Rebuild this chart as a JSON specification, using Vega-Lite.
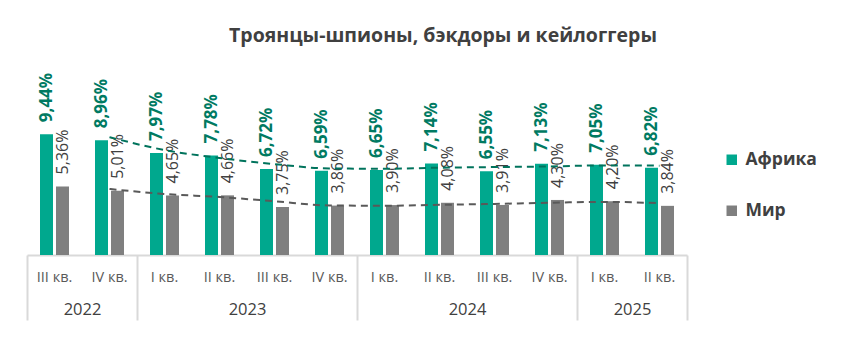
{
  "$schema": "https://vega.github.io/schema/vega-lite/v6.json",
  "autosize": {"type": "none"},
  "width": 660,
  "height": 128,
  "padding": {"left": 27, "top": 127, "right": 164, "bottom": 95},
  "background": "white",
  "config": {
    "view": {"stroke": null},
    "font": "Open Sans",
    "locale": {"number": {"decimal": ",", "thousands": " ", "grouping": [3], "currency": ["", ""]}}
  },
  "title": {
    "text": "Троянцы-шпионы, бэкдоры и кейлоггеры",
    "fontSize": 19.5,
    "fontWeight": "bold",
    "color": "#404040",
    "font": "Open Sans",
    "anchor": "middle",
    "frame": "group",
    "dx": 86,
    "offset": 26
  },
  "datasets": {
    "main": [
      {"n": 1, "key": "III кв. 2022", "series": "Африка", "value": 0.0944},
      {"n": 1, "key": "III кв. 2022", "series": "Мир", "value": 0.0536},
      {"n": 2, "key": "IV кв. 2022", "series": "Африка", "value": 0.0896},
      {"n": 2, "key": "IV кв. 2022", "series": "Мир", "value": 0.0501},
      {"n": 3, "key": "I кв. 2023", "series": "Африка", "value": 0.0797},
      {"n": 3, "key": "I кв. 2023", "series": "Мир", "value": 0.0465},
      {"n": 4, "key": "II кв. 2023", "series": "Африка", "value": 0.0778},
      {"n": 4, "key": "II кв. 2023", "series": "Мир", "value": 0.0466},
      {"n": 5, "key": "III кв. 2023", "series": "Африка", "value": 0.0672},
      {"n": 5, "key": "III кв. 2023", "series": "Мир", "value": 0.0375},
      {"n": 6, "key": "IV кв. 2023", "series": "Африка", "value": 0.0659},
      {"n": 6, "key": "IV кв. 2023", "series": "Мир", "value": 0.0386},
      {"n": 7, "key": "I кв. 2024", "series": "Африка", "value": 0.0665},
      {"n": 7, "key": "I кв. 2024", "series": "Мир", "value": 0.0390},
      {"n": 8, "key": "II кв. 2024", "series": "Африка", "value": 0.0714},
      {"n": 8, "key": "II кв. 2024", "series": "Мир", "value": 0.0408},
      {"n": 9, "key": "III кв. 2024", "series": "Африка", "value": 0.0655},
      {"n": 9, "key": "III кв. 2024", "series": "Мир", "value": 0.0391},
      {"n": 10, "key": "IV кв. 2024", "series": "Африка", "value": 0.0713},
      {"n": 10, "key": "IV кв. 2024", "series": "Мир", "value": 0.0430},
      {"n": 11, "key": "I кв. 2025", "series": "Африка", "value": 0.0705},
      {"n": 11, "key": "I кв. 2025", "series": "Мир", "value": 0.0420},
      {"n": 12, "key": "II кв. 2025", "series": "Африка", "value": 0.0682},
      {"n": 12, "key": "II кв. 2025", "series": "Мир", "value": 0.0384}
    ],
    "trend": [
      {"n": 2, "series": "Африка", "trend": 0.0921},
      {"n": 3, "series": "Африка", "trend": 0.0820},
      {"n": 4, "series": "Африка", "trend": 0.0758},
      {"n": 5, "series": "Африка", "trend": 0.0710},
      {"n": 6, "series": "Африка", "trend": 0.0676},
      {"n": 7, "series": "Африка", "trend": 0.0674},
      {"n": 8, "series": "Африка", "trend": 0.0682},
      {"n": 9, "series": "Африка", "trend": 0.0687},
      {"n": 10, "series": "Африка", "trend": 0.0692},
      {"n": 11, "series": "Африка", "trend": 0.0700},
      {"n": 12, "series": "Африка", "trend": 0.0698},
      {"n": 2, "series": "Мир", "trend": 0.0516},
      {"n": 3, "series": "Мир", "trend": 0.0477},
      {"n": 4, "series": "Мир", "trend": 0.0453},
      {"n": 5, "series": "Мир", "trend": 0.0420},
      {"n": 6, "series": "Мир", "trend": 0.0387},
      {"n": 7, "series": "Мир", "trend": 0.0385},
      {"n": 8, "series": "Мир", "trend": 0.0392},
      {"n": 9, "series": "Мир", "trend": 0.0399},
      {"n": 10, "series": "Мир", "trend": 0.0408},
      {"n": 11, "series": "Мир", "trend": 0.0415},
      {"n": 12, "series": "Мир", "trend": 0.0405}
    ]
  },
  "layer": [
    {
      "data": {"name": "main"},
      "encoding": {
        "x": {
          "field": "key", "type": "nominal", "sort": null,
          "scale": {"paddingInner": 0, "paddingOuter": 0},
          "axis": {
            "orient": "bottom", "title": null, "ticks": false, "labelAngle": 0,
            "domainColor": "#D9D9D9", "domainWidth": 2,
            "labelFontSize": 14.5, "labelColor": "#595959", "labelPadding": 15,
            "labelExpr": "slice(datum.label, 0, -5)"
          }
        },
        "xOffset": {
          "field": "series", "type": "nominal",
          "scale": {"domain": ["Африка", "Мир"], "paddingInner": 0.1875, "paddingOuter": 0.8125}
        },
        "y": {
          "field": "value", "type": "quantitative",
          "scale": {"domain": [0, 0.1], "nice": false},
          "axis": null
        }
      },
      "layer": [
        {
          "mark": {"type": "bar"},
          "encoding": {
            "color": {
              "field": "series", "type": "nominal",
              "scale": {"domain": ["Африка", "Мир"], "range": ["#00A88E", "#7F7F7F"]},
              "legend": {
                "title": null, "orient": "none", "legendX": 696, "legendY": 24,
                "symbolType": "square", "symbolSize": 110, "symbolStrokeWidth": 0,
                "labelFontSize": 17.5, "labelFontWeight": "bold", "labelColor": "#404040",
                "labelFont": "Open Sans", "rowPadding": 32, "padding": 0, "labelOffset": 5
              }
            }
          }
        },
        {
          "transform": [{"filter": "datum.series === 'Африка'"}],
          "mark": {"type": "text", "angle": 270, "align": "left", "baseline": "middle", "dx": 12,
                   "fontSize": 17, "fontWeight": "bold", "color": "#007A62"},
          "encoding": {"text": {"field": "value", "type": "quantitative", "format": ".2%"}}
        },
        {
          "transform": [{"filter": "datum.series === 'Мир'"}],
          "mark": {"type": "text", "angle": 270, "align": "left", "baseline": "middle", "dx": 12,
                   "fontSize": 16, "color": "#404040"},
          "encoding": {"text": {"field": "value", "type": "quantitative", "format": ".2%"}}
        }
      ]
    },
    {
      "data": {"name": "trend"},
      "encoding": {
        "x": {
          "field": "n", "type": "quantitative",
          "scale": {"domain": [0.5, 12.5], "nice": false, "zero": false},
          "axis": {
            "orient": "bottom", "title": null, "domain": false, "grid": false,
            "values": [0.5, 1.5, 2.5, 4.5, 6.5, 8.5, 10.5, 11.5, 12.5],
            "tickSize": 65, "tickColor": "#D9D9D9", "tickWidth": 2,
            "tickOpacity": {"condition": {"test": "indexof([0.5, 2.5, 6.5, 10.5, 12.5], datum.value) >= 0", "value": 1}, "value": 0},
            "labelExpr": "datum.value == 1.5 ? '2022' : datum.value == 4.5 ? '2023' : datum.value == 8.5 ? '2024' : datum.value == 11.5 ? '2025' : ''",
            "labelFontSize": 16.5, "labelColor": "#404040", "labelPadding": -19,
            "labelFlush": false, "labelOverlap": false, "labelBound": false
          }
        },
        "y": {"field": "trend", "type": "quantitative"}
      },
      "layer": [
        {
          "transform": [{"filter": "datum.series === 'Африка'"}],
          "mark": {"type": "line", "interpolate": "monotone", "strokeDash": [7, 5], "strokeWidth": 2, "color": "#00735C"}
        },
        {
          "transform": [{"filter": "datum.series === 'Мир'"}],
          "mark": {"type": "line", "interpolate": "monotone", "strokeDash": [7, 5], "strokeWidth": 2, "color": "#595959"}
        }
      ]
    }
  ],
  "resolve": {"scale": {"x": "independent"}, "axis": {"x": "independent"}}
}
